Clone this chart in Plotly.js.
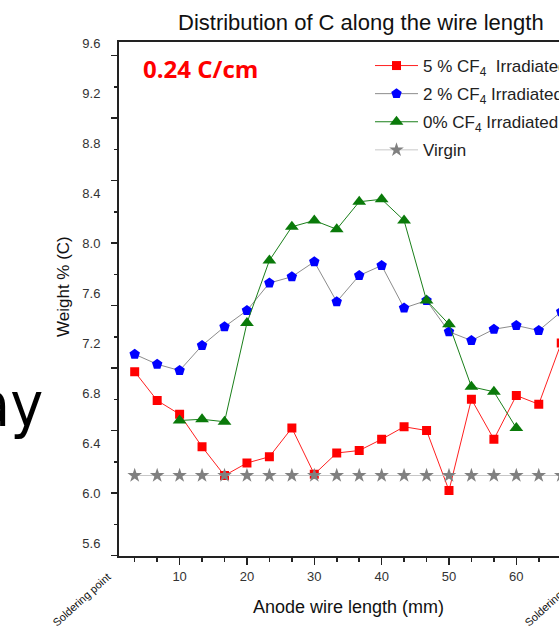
<!DOCTYPE html>
<html>
<head>
<meta charset="utf-8">
<script src="https://cdn.plot.ly/plotly-3.0.1.min.js"></script>
<style>
html, body { margin: 0; padding: 0; overflow: hidden; background: #fff; }
#chart { width: 624px; height: 630px; }
</style>
</head>
<body>
<div id="chart"></div>
<script>
// ---- data ----
var positionsMm = [3.33, 6.67, 10, 13.33, 16.67, 20, 23.33, 26.67, 30, 33.33, 36.67, 40, 43.33, 46.67, 50, 53.33, 56.67, 60, 63.33, 66.67];
var cf4_5pct = [6.97, 6.74, 6.63, 6.37, 6.14, 6.24, 6.29, 6.52, 6.15, 6.32, 6.34, 6.43, 6.53, 6.50, 6.02, 6.75, 6.43, 6.78, 6.71, 7.20];
var cf4_2pct = [7.11, 7.03, 6.98, 7.18, 7.33, 7.46, 7.68, 7.73, 7.85, 7.53, 7.74, 7.82, 7.48, 7.54, 7.29, 7.22, 7.31, 7.34, 7.30, 7.45];
var positions0pct = [10, 13.33, 16.67, 20, 23.33, 26.67, 30, 33.33, 36.67, 40, 43.33, 46.67, 50, 53.33, 56.67, 60];
var cf4_0pct = [6.58, 6.59, 6.57, 7.36, 7.86, 8.13, 8.18, 8.11, 8.33, 8.35, 8.18, 7.54, 7.35, 6.85, 6.81, 6.52];
var virgin = [6.14, 6.14, 6.14, 6.14, 6.14, 6.14, 6.14, 6.14, 6.14, 6.14, 6.14, 6.14, 6.14, 6.14, 6.14, 6.14, 6.14, 6.14, 6.14, 6.14];
var seriesNames = ['5 % CF<sub>4</sub>&nbsp; Irradiated', '2 % CF<sub>4</sub> Irradiated', '0% CF<sub>4</sub> Irradiated', 'Virgin'];
var yTickVals = [5.6, 6.0, 6.4, 6.8, 7.2, 7.6, 8.0, 8.4, 8.8, 9.2, 9.6];
var yTickText = ['5.6', '6.0', '6.4', '6.8', '7.2', '7.6', '8.0', '8.4', '8.8', '9.2', '9.6'];
var titleText = 'Distribution of C along the wire length';
var xTitleText = 'Anode wire length (mm)';
var yTitleText = 'Weight % (C)';
var chargeText = '0.24 C/cm';
var endLabel = 'Soldering point';

// ---- layout geometry (pixels) ----
var W = 624, H = 630, ML = 119, MR = 41, MT = 42, MB = 74;
var PW = W - ML - MR, PH = H - MT - MB;
function px(x) { return (x - ML) / PW; }
function py(y) { return (H - MB - y) / PH; }

var font = 'Liberation Sans, Arial, sans-serif';

var traces = [
  { x: positionsMm, y: cf4_5pct, name: seriesNames[0], type: 'scatter', mode: 'lines+markers',
    line: { color: '#ff2020', width: 1 }, marker: { symbol: 'square', size: 9, color: '#ff0000' }, legendgroup: 'a' },
  { x: positionsMm, y: cf4_2pct, name: seriesNames[1], type: 'scatter', mode: 'lines+markers',
    line: { color: '#8c8c8c', width: 1 }, marker: { symbol: 'pentagon', size: 11, color: '#0000ff' }, legendgroup: 'b' },
  { x: positions0pct, y: cf4_0pct, name: seriesNames[2], type: 'scatter', mode: 'lines+markers',
    line: { color: '#1a7f1a', width: 1 }, marker: { symbol: 'triangle-up', size: 12, color: '#0a7a0a' }, legendgroup: 'c' },
  { x: positionsMm, y: virgin, name: seriesNames[3], type: 'scatter', mode: 'lines+markers', yaxis: 'y2',
    line: { color: '#c8c8c8', width: 1 }, marker: { symbol: 'star', size: 11, color: '#808080' }, legendgroup: 'd' }
];

var yRange = [5.496, 9.608];

var layout = {
  width: W, height: H,
  margin: { l: ML, r: MR, t: MT, b: MB, pad: 0 },
  paper_bgcolor: '#ffffff', plot_bgcolor: '#ffffff',
  font: { family: font, color: '#333333', size: 13 },
  showlegend: true,
  legend: {
    x: px(370), y: py(48), xanchor: 'left', yanchor: 'top',
    bgcolor: 'rgba(0,0,0,0)', borderwidth: 0,
    font: { family: font, size: 17, color: '#222222' },
    itemwidth: 43, traceorder: 'grouped', tracegroupgap: 3
  },
  xaxis: {
    range: [1, 69.9], showgrid: false, zeroline: false,
    showline: true, linewidth: 2, linecolor: '#222222', mirror: true,
    ticks: 'outside', ticklen: 7, tickwidth: 1.5, tickcolor: '#222222',
    tick0: 0, dtick: 10,
    minor: { tick0: 0, dtick: 10 / 3, ticks: 'outside', ticklen: 4, tickwidth: 1.5, tickcolor: '#222222' },
    tickfont: { family: font, size: 13, color: '#333333' }
  },
  yaxis: {
    range: yRange, showgrid: false, zeroline: false,
    showline: true, linewidth: 2, linecolor: '#222222', mirror: true,
    ticks: '', tickvals: yTickVals, ticktext: yTickText,
    ticklabelstandoff: 14,
    tickfont: { family: font, size: 13, color: '#333333' }
  },
  yaxis2: {
    range: yRange, overlaying: 'y', side: 'left', showgrid: false, zeroline: false,
    showline: false, showticklabels: false,
    ticks: 'outside', ticklen: 7, tickwidth: 1.5, tickcolor: '#222222',
    tick0: 5.5, dtick: 0.5,
    minor: { tick0: 5.5, dtick: 0.25, ticks: 'outside', ticklen: 4, tickwidth: 1.5, tickcolor: '#222222' }
  },
  annotations: [
    { text: titleText, xref: 'paper', yref: 'paper', x: px(360.5), y: py(23), xanchor: 'center', yanchor: 'middle',
      showarrow: false, font: { family: font, size: 22, color: '#111111' } },
    { text: xTitleText, xref: 'paper', yref: 'paper', x: px(348), y: py(607), xanchor: 'center', yanchor: 'middle',
      showarrow: false, font: { family: font, size: 18, color: '#111111' } },
    { text: yTitleText, xref: 'paper', yref: 'paper', x: px(63), y: py(287), xanchor: 'center', yanchor: 'middle',
      textangle: -90, showarrow: false, font: { family: font, size: 17, color: '#111111' } },
    { text: '<b>' + chargeText + '</b>', xref: 'paper', yref: 'paper', x: px(141), y: py(68), xanchor: 'left', yanchor: 'middle',
      showarrow: false, font: { family: 'Open Sans, Noto Sans, sans-serif', size: 24, color: '#ff0000' } },
    { text: endLabel, xref: 'paper', yref: 'paper', x: px(81), y: py(600), xanchor: 'center', yanchor: 'middle',
      textangle: -42, showarrow: false, font: { family: font, size: 11, color: '#111111' } },
    { text: endLabel, xref: 'paper', yref: 'paper', x: px(553), y: py(600), xanchor: 'center', yanchor: 'middle',
      textangle: -42, showarrow: false, font: { family: font, size: 11, color: '#111111' } },
    { text: 'ay', xref: 'paper', yref: 'paper', x: px(45), y: py(405), xanchor: 'right', yanchor: 'middle',
      showarrow: false, font: { family: 'Liberation Sans Narrow, DejaVu Sans Condensed, Liberation Sans, sans-serif', size: 62, color: '#000000' } }
  ]
};

Plotly.newPlot('chart', traces, layout, { staticPlot: true, displayModeBar: false });
</script>
</body>
</html>
